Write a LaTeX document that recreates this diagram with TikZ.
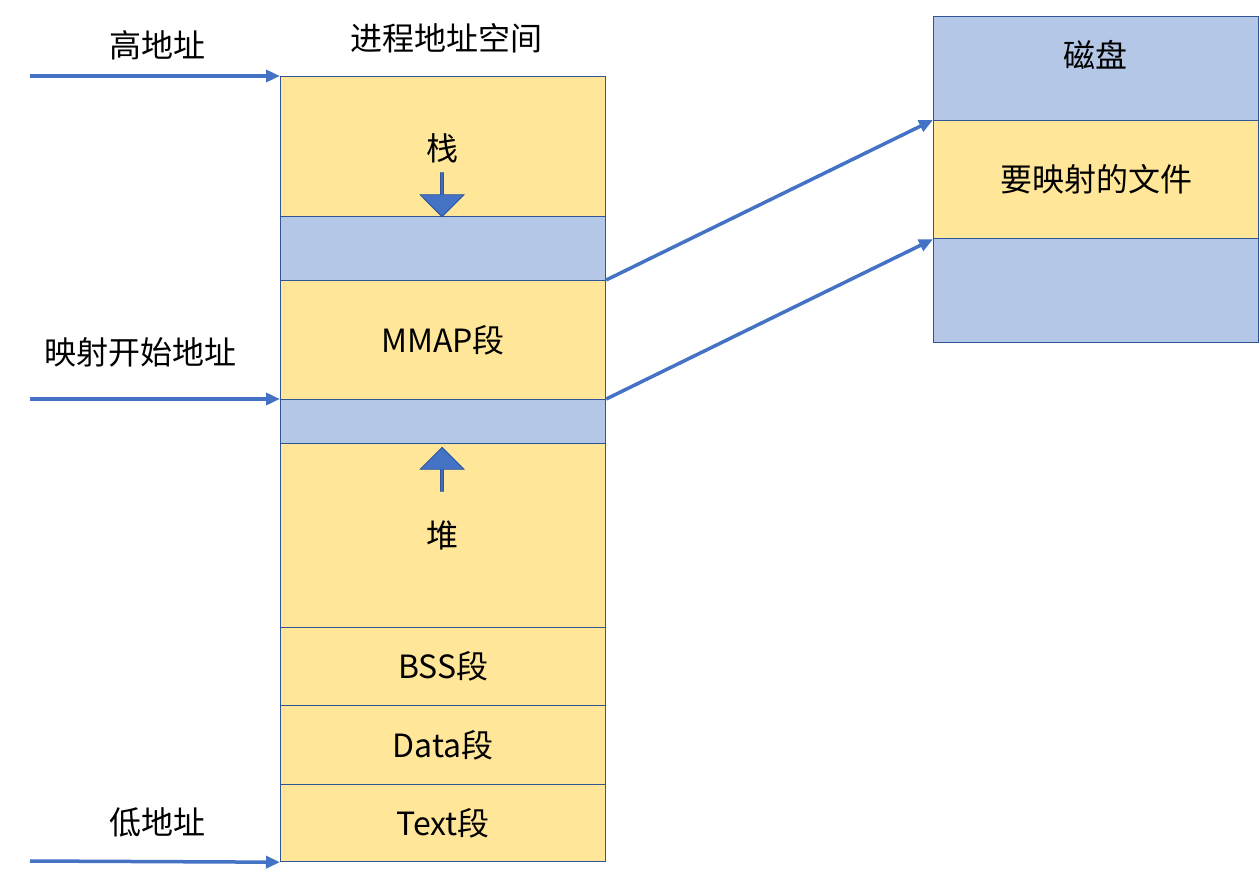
\documentclass[tikz,border=0pt]{standalone}
\usepackage{fontspec}
\setmainfont{Noto Sans CJK SC}
\usetikzlibrary{arrows.meta,shapes.arrows}
\definecolor{yel}{HTML}{FFE699}
\definecolor{blu}{HTML}{B4C7E7}
\definecolor{bd}{HTML}{2F5597}
\definecolor{ar}{HTML}{4472C4}
\begin{document}
\begin{tikzpicture}[x=1pt,y=-1pt,
 seg/.style={draw=bd,line width=1.2pt,anchor=north west,minimum width=325pt,inner sep=0pt,font=\fontsize{32}{36}\selectfont},
 lab/.style={font=\fontsize{32}{36}\selectfont},
 conn/.style={ar,line width=3.5pt,-{Triangle[length=14pt,width=12pt]}},
 blk/.style={single arrow,fill=ar,draw=bd,line width=0.8pt,minimum height=44pt,single arrow head extend=6pt,minimum width=44pt,inner sep=0pt,single arrow tip angle=90}]
\useasboundingbox (0,0) rectangle (1260,881);
\node[seg,fill=yel,minimum height=140pt] (stack) at (280,76) {};
\node[lab] at (442,148) {栈};
\node[seg,fill=blu,minimum height=64pt] (gap1) at (280,216) {};
\node[seg,fill=yel,minimum height=119pt] (mmap) at (280,280) {MMAP段};
\node[seg,fill=blu,minimum height=44pt] (gap2) at (280,399) {};
\node[seg,fill=yel,minimum height=184pt] (heap) at (280,443) {};
\node[lab] at (442,535) {堆};
\node[seg,fill=yel,minimum height=78pt] (bss) at (280,627) {BSS段};
\node[seg,fill=yel,minimum height=79pt] (data) at (280,705) {Data段};
\node[seg,fill=yel,minimum height=77pt] (text) at (280,784) {Text段};
\node[blk,shape border rotate=270] (da) at (442,194) {};
\node[blk,shape border rotate=90] (ua) at (442,470) {};
\node[seg,fill=blu,minimum height=104pt] (disk) at (933,16) {};
\node[lab] at (1095,55) {磁盘};
\node[seg,fill=yel,minimum height=118pt] (file) at (933,120) {要映射的文件};
\node[seg,fill=blu,minimum height=104pt] (disk2) at (933,238) {};
\node[lab] (t0) at (446,38) {进程地址空间};
\node[lab] (hi) at (157,45) {高地址};
\node[lab] (ms) at (140,352) {映射开始地址};
\node[lab] (lo) at (157,822) {低地址};
\coordinate (a1) at (30,76);
\coordinate (a2) at (30,399);
\coordinate (a3) at (30,861);
\draw[conn] (a1) -- (stack.north west);
\draw[conn] (a2) -- (gap2.north west);
\draw[conn] (a3) -- (text.south west);
\draw[conn] (mmap.north east) -- (file.north west);
\draw[conn] (gap2.north east) -- (file.south west);
\end{tikzpicture}
\end{document}
